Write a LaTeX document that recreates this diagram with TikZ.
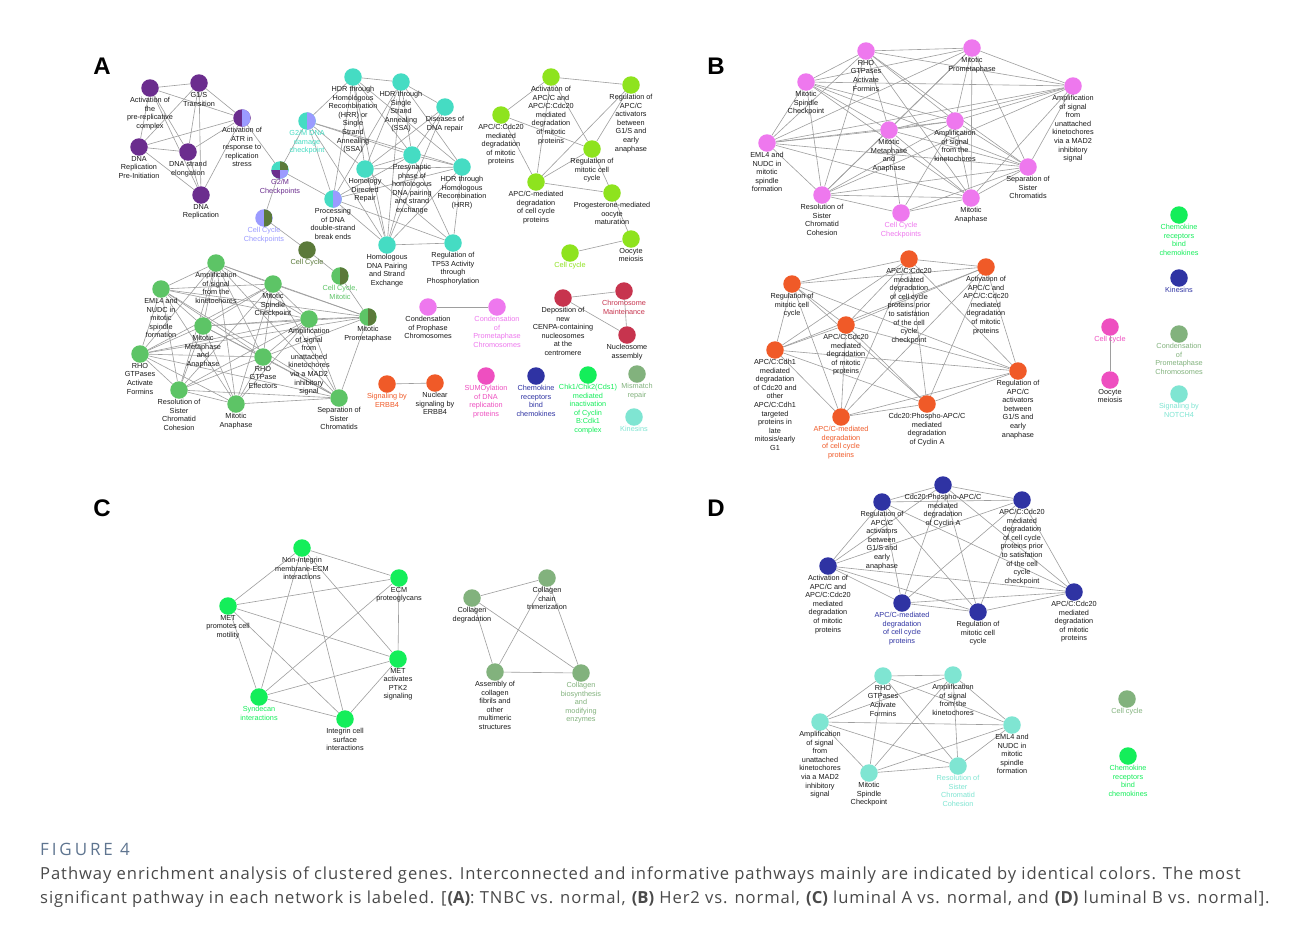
\documentclass[tikz,border=0pt]{standalone}
\usepackage{fontspec}
\setmainfont{Liberation Sans}
\newfontfamily\capfont[LetterSpace=5.5,BoldFeatures={LetterSpace=0}]{Open Sans}
\newfontfamily\figfont[LetterSpace=17]{Open Sans}
\pgfdeclarelayer{bgw}
\pgfdeclarelayer{bg}
\pgfsetlayers{bgw,bg,main}
\definecolor{cP}{HTML}{6B2D8E}
\definecolor{cL}{HTML}{9B9BFF}
\definecolor{cT}{HTML}{45DCC3}
\definecolor{cO}{HTML}{5B7A3A}
\definecolor{cG}{HTML}{5DC466}
\definecolor{cLi}{HTML}{8EE31E}
\definecolor{cV}{HTML}{EE78EE}
\definecolor{cR}{HTML}{C7344E}
\definecolor{cOr}{HTML}{F05A28}
\definecolor{cM}{HTML}{EE4FC0}
\definecolor{cN}{HTML}{2F33A3}
\definecolor{cBG}{HTML}{14EE5A}
\definecolor{cS}{HTML}{82B27D}
\definecolor{cLT}{HTML}{7FE5D2}
\definecolor{edgec}{HTML}{9E9E9E}
\definecolor{txt}{HTML}{1A1A1A}
\definecolor{capblue}{HTML}{5F7590}
\definecolor{captxt}{HTML}{4A4A4A}
\tikzset{
  nd/.style={circle,inner sep=0pt,minimum size=17.5pt,label distance=1.8pt},
  lb/.style={font=\fontsize{7.3}{8.6}\selectfont,align=center,inner sep=0pt},
  edge/.style={draw=edgec,line width=0.6pt},
  half/.style 2 args={fill=#1,path picture={\fill[#2] (path picture bounding box.south) rectangle (path picture bounding box.north east);}},
  quad/.style n args={4}{fill=#1,path picture={
    \fill[#2] (path picture bounding box.north) rectangle (path picture bounding box.east);
    \fill[#3] (path picture bounding box.west) rectangle (path picture bounding box.south);
    \fill[#4] (path picture bounding box.south) rectangle (path picture bounding box.east);}},
  panel/.style={font=\fontsize{24}{24}\selectfont\bfseries,text=black}
}
\newcommand\PN[5]{\node[nd,#3,label={[lb,text=#5]below:{#4}}] (#1) at (#2) {};}
\newcommand\clique[1]{\foreach \u [count=\ci] in {#1}{\foreach \v [count=\cj] in {#1}{\ifnum\ci<\cj\relax\draw[edge] (\u) -- (\v);\fi}}}
\begin{document}
\begin{tikzpicture}[x=1pt,y=-1pt]
\useasboundingbox (0,0) rectangle (1293,932);
\begin{pgfonlayer}{bgw}
\fill[white] (0,0) rectangle (1293,932);
\end{pgfonlayer}
% panel letters
\node[panel] (LA) at (102,66) {A};
\node[panel] (LB) at (716,66) {B};
\node[panel] (LC) at (102,508) {C};
\node[panel] (LD) at (716,508) {D};
% ===== Panel A =====
\PN{p1}{150,88}{fill=cP}{Activation of\\the\\pre-replicative\\complex}{txt}
\PN{p2}{199,83}{fill=cP}{G1/S\\Transition}{txt}
\PN{p3}{242,118}{half={cP}{cL}}{Activation of\\ATR in\\response to\\replication\\stress}{txt}
\PN{p4}{139,147}{fill=cP}{DNA\\Replication\\Pre-Initiation}{txt}
\PN{p5}{188,152}{fill=cP}{DNA strand\\elongation}{txt}
\PN{p6}{201,195}{fill=cP}{DNA\\Replication}{txt}
\PN{g0}{280,170}{quad={cT}{cO}{cP}{cL}}{G2/M\\Checkpoints}{cP}
\PN{g3}{264,218}{half={cL}{cO}}{Cell Cycle\\Checkpoints}{cL}
\PN{g1}{307,121}{half={cT}{cL}}{G2/M DNA\\damage\\checkpoint}{cT}
\PN{g2}{333,199}{half={cT}{cL}}{Processing\\of DNA\\double-strand\\break ends}{txt}
\PN{g4}{307,250}{fill=cO}{Cell Cycle}{cO}
\PN{g5}{340,276}{half={cG}{cO}}{Cell Cycle,\\Mitotic}{cG}
\PN{t1}{353,77}{fill=cT}{HDR through\\Homologous\\Recombination\\(HRR) or\\Single\\Strand\\Annealing\\(SSA)}{txt}
\PN{t2}{401,82}{fill=cT}{HDR through\\Single\\Strand\\Annealing\\(SSA)}{txt}
\PN{t3}{445,107}{fill=cT}{Diseases of\\DNA repair}{txt}
\PN{t4}{412,155}{fill=cT}{Presynaptic\\phase of\\homologous\\DNA pairing\\and strand\\exchange}{txt}
\PN{t5}{365,169}{fill=cT}{Homology\\Directed\\Repair}{txt}
\PN{t6}{462,167}{fill=cT}{HDR through\\Homologous\\Recombination\\(HRR)}{txt}
\PN{t7}{387,245}{fill=cT}{Homologous\\DNA Pairing\\and Strand\\Exchange}{txt}
\PN{t8}{453,243}{fill=cT}{Regulation of\\TP53 Activity\\through\\Phosphorylation}{txt}
\PN{l1}{501,115}{fill=cLi}{APC/C:Cdc20\\mediated\\degradation\\of mitotic\\proteins}{txt}
\PN{l2}{551,77}{fill=cLi}{Activation of\\APC/C and\\APC/C:Cdc20\\mediated\\degradation\\of mitotic\\proteins}{txt}
\PN{l3}{631,85}{fill=cLi}{Regulation of\\APC/C\\activators\\between\\G1/S and\\early\\anaphase}{txt}
\PN{l4}{592,149}{fill=cLi}{Regulation of\\mitotic cell\\cycle}{txt}
\PN{l5}{536,182}{fill=cLi}{APC/C-mediated\\degradation\\of cell cycle\\proteins}{txt}
\PN{l6}{612,193}{fill=cLi}{Progesterone-mediated\\oocyte\\maturation}{txt}
\PN{l7}{631,239}{fill=cLi}{Oocyte\\meiosis}{txt}
\PN{l8}{570,253}{fill=cLi}{Cell cycle}{cLi}
\PN{e1}{216,263}{fill=cG}{Amplification\\of signal\\from the\\kinetochores}{txt}
\PN{e2}{161,289}{fill=cG}{EML4 and\\NUDC in\\mitotic\\spindle\\formation}{txt}
\PN{e3}{273,284}{fill=cG}{Mitotic\\Spindle\\Checkpoint}{txt}
\PN{e4}{203,326}{fill=cG}{Mitotic\\Metaphase\\and\\Anaphase}{txt}
\PN{e5}{309,319}{fill=cG}{Amplification\\of signal\\from\\unattached\\kinetochores\\via a MAD2\\inhibitory\\signal}{txt}
\PN{e6}{368,317}{half={cG}{cO}}{Mitotic\\Prometaphase}{txt}
\PN{e7}{140,354}{fill=cG}{RHO\\GTPases\\Activate\\Formins}{txt}
\PN{e8}{263,357}{fill=cG}{RHO\\GTPase\\Effectors}{txt}
\PN{e9}{179,390}{fill=cG}{Resolution of\\Sister\\Chromatid\\Cohesion}{txt}
\PN{e10}{236,404}{fill=cG}{Mitotic\\Anaphase}{txt}
\PN{e11}{339,398}{fill=cG}{Separation of\\Sister\\Chromatids}{txt}
\PN{c1}{428,307}{fill=cV}{Condensation\\of Prophase\\Chromosomes}{txt}
\PN{c2}{497,307}{fill=cV}{Condensation\\of\\Prometaphase\\Chromosomes}{cV}
\PN{r1}{563,298}{fill=cR}{Deposition of\\new\\CENPA-containing\\nucleosomes\\at the\\centromere}{txt}
\PN{r2}{624,291}{fill=cR}{Chromosome\\Maintenance}{cR}
\PN{r3}{627,335}{fill=cR}{Nucleosome\\assembly}{txt}
\PN{o1}{387,384}{fill=cOr}{Signaling by\\ERBB4}{cOr}
\PN{o2}{435,383}{fill=cOr}{Nuclear\\signaling by\\ERBB4}{txt}
\PN{s1}{486,376}{fill=cM}{SUMOylation\\of DNA\\replication\\proteins}{cM}
\PN{s2}{536,376}{fill=cN}{Chemokine\\receptors\\bind\\chemokines}{cN}
\PN{s3}{588,375}{fill=cBG}{Chk1/Chk2(Cds1)\\mediated\\inactivation\\of Cyclin\\B:Cdk1\\complex}{cBG}
\PN{s4}{637,374}{fill=cS}{Mismatch\\repair}{cS}
\PN{s5}{634,417}{fill=cLT}{Kinesins}{cLT}
% ===== Panel B =====
\PN{b1}{866,51}{fill=cV}{RHO\\GTPases\\Activate\\Formins}{txt}
\PN{b2}{972,48}{fill=cV}{Mitotic\\Prometaphase}{txt}
\PN{b3}{806,82}{fill=cV}{Mitotic\\Spindle\\Checkpoint}{txt}
\PN{b4}{1073,86}{fill=cV}{Amplification\\of signal\\from\\unattached\\kinetochores\\via a MAD2\\inhibitory\\signal}{txt}
\PN{b5}{955,121}{fill=cV}{Amplification\\of signal\\from the\\kinetochores}{txt}
\PN{b6}{889,130}{fill=cV}{Mitotic\\Metaphase\\and\\Anaphase}{txt}
\PN{b7}{767,143}{fill=cV}{EML4 and\\NUDC in\\mitotic\\spindle\\formation}{txt}
\PN{b8}{1028,167}{fill=cV}{Separation of\\Sister\\Chromatids}{txt}
\PN{b9}{822,195}{fill=cV}{Resolution of\\Sister\\Chromatid\\Cohesion}{txt}
\PN{b10}{971,198}{fill=cV}{Mitotic\\Anaphase}{txt}
\PN{b11}{901,213}{fill=cV}{Cell Cycle\\Checkpoints}{cV}
\PN{q1}{909,259}{fill=cOr}{APC/C:Cdc20\\mediated\\degradation\\of cell cycle\\proteins prior\\to satisfation\\of the cell\\cycle\\checkpoint}{txt}
\PN{q2}{986,267}{fill=cOr}{Activation of\\APC/C and\\APC/C:Cdc20\\mediated\\degradation\\of mitotic\\proteins}{txt}
\PN{q3}{792,284}{fill=cOr}{Regulation of\\mitotic cell\\cycle}{txt}
\PN{q4}{846,325}{fill=cOr}{APC/C:Cdc20\\mediated\\degradation\\of mitotic\\proteins}{txt}
\PN{q5}{775,350}{fill=cOr}{APC/C:Cdh1\\mediated\\degradation\\of Cdc20 and\\other\\APC/C:Cdh1\\targeted\\proteins in\\late\\mitosis/early\\G1}{txt}
\PN{q6}{1018,371}{fill=cOr}{Regulation of\\APC/C\\activators\\between\\G1/S and\\early\\anaphase}{txt}
\PN{q7}{841,417}{fill=cOr}{APC/C-mediated\\degradation\\of cell cycle\\proteins}{cOr}
\PN{q8}{927,404}{fill=cOr}{Cdc20:Phospho-APC/C\\mediated\\degradation\\of Cyclin A}{txt}
\PN{m1}{1110,327}{fill=cM}{Cell cycle}{cM}
\PN{m2}{1110,380}{fill=cM}{Oocyte\\meiosis}{txt}
\PN{u1}{1179,215}{fill=cBG}{Chemokine\\receptors\\bind\\chemokines}{cBG}
\PN{u2}{1179,278}{fill=cN}{Kinesins}{cN}
\PN{u3}{1179,334}{fill=cS}{Condensation\\of\\Prometaphase\\Chromosomes}{cS}
\PN{u4}{1179,394}{fill=cLT}{Signaling by\\NOTCH4}{cLT}
% ===== Panel C =====
\PN{k1}{302,548}{fill=cBG}{Non-integrin\\membrane-ECM\\interactions}{txt}
\PN{k2}{399,578}{fill=cBG}{ECM\\proteoglycans}{txt}
\PN{k3}{228,606}{fill=cBG}{MET\\promotes cell\\motility}{txt}
\PN{k4}{398,659}{fill=cBG}{MET\\activates\\PTK2\\signaling}{txt}
\PN{k5}{259,697}{fill=cBG}{Syndecan\\interactions}{cBG}
\PN{k6}{345,719}{fill=cBG}{Integrin cell\\surface\\interactions}{txt}
\PN{h1}{547,578}{fill=cS}{Collagen\\chain\\trimerization}{txt}
\PN{h2}{472,598}{fill=cS}{Collagen\\degradation}{txt}
\PN{h3}{495,672}{fill=cS}{Assembly of\\collagen\\fibrils and\\other\\multimeric\\structures}{txt}
\PN{h4}{581,673}{fill=cS}{Collagen\\biosynthesis\\and\\modifying\\enzymes}{cS}
% ===== Panel D =====
\PN{n1}{943,485}{fill=cN}{Cdc20:Phospho-APC/C\\mediated\\degradation\\of Cyclin A}{txt}
\PN{n2}{882,502}{fill=cN}{Regulation of\\APC/C\\activators\\between\\G1/S and\\early\\anaphase}{txt}
\PN{n3}{1022,500}{fill=cN}{APC/C:Cdc20\\mediated\\degradation\\of cell cycle\\proteins prior\\to satisfation\\of the cell\\cycle\\checkpoint}{txt}
\PN{n4}{828,566}{fill=cN}{Activation of\\APC/C and\\APC/C:Cdc20\\mediated\\degradation\\of mitotic\\proteins}{txt}
\PN{n5}{902,603}{fill=cN}{APC/C-mediated\\degradation\\of cell cycle\\proteins}{cN}
\PN{n6}{978,612}{fill=cN}{Regulation of\\mitotic cell\\cycle}{txt}
\PN{n7}{1074,592}{fill=cN}{APC/C:Cdc20\\mediated\\degradation\\of mitotic\\proteins}{txt}
\PN{d1}{883,676}{fill=cLT}{RHO\\GTPases\\Activate\\Formins}{txt}
\PN{d2}{953,675}{fill=cLT}{Amplification\\of signal\\from the\\kinetochores}{txt}
\PN{d3}{820,722}{fill=cLT}{Amplification\\of signal\\from\\unattached\\kinetochores\\via a MAD2\\inhibitory\\signal}{txt}
\PN{d4}{1012,725}{fill=cLT}{EML4 and\\NUDC in\\mitotic\\spindle\\formation}{txt}
\PN{d5}{869,773}{fill=cLT}{Mitotic\\Spindle\\Checkpoint}{txt}
\PN{d6}{958,766}{fill=cLT}{Resolution of\\Sister\\Chromatid\\Cohesion}{cLT}
\PN{w1}{1127,699}{fill=cS}{Cell cycle}{cS}
\PN{w2}{1128,756}{fill=cBG}{Chemokine\\receptors\\bind\\chemokines}{cBG}
% ===== edges =====
\begin{pgfonlayer}{bg}
\clique{p1,p2,p3,p4,p5,p6}
\foreach \a/\b in {p3/g0,g1/g0,g0/g3,g0/g2,g3/g4,g4/g5,g5/e6,
  t1/t2,t2/t3,t1/g1,t1/t5,t1/g2,t1/t4,t1/t6,t1/t7,t2/t5,t2/g2,t2/t7,t2/t4,t2/t6,
  t3/t5,t3/t7,t3/t4,t4/t5,t4/t6,t4/t7,t4/t8,t4/g1,t5/t6,t5/t7,t5/t8,t6/t7,t6/t8,
  t6/g2,g1/g2,g1/t5,g1/t7,g1/t6,g2/t7,g2/t8,g2/t4,t7/t8,
  l1/l2,l2/l3,l1/l4,l1/l5,l2/l4,l2/l5,l3/l4,l3/l5,l4/l5,l5/l6,l4/l6,l6/l7,l7/l8,
  e6/e1,e6/e2,e6/e3,e6/e4,e6/e5,e6/e7,e6/e8,e6/e11,
  c1/c2,r1/r2,r1/r3,r2/r3,o1/o2,
  b11/b6,b11/b9,b11/b10,b11/b8,b11/b5,m1/m2,
  k1/k2,k1/k3,k1/k4,k1/k5,k1/k6,k2/k3,k2/k4,k2/k5,k3/k4,k3/k5,k3/k6,k4/k5,k4/k6,k5/k6,
  h2/h1,h2/h3,h2/h4,h1/h3,h1/h4,h3/h4}
  {\draw[edge] (\a) -- (\b);}
\clique{e1,e2,e3,e4,e5,e7,e8,e9,e10,e11}
\clique{b1,b2,b3,b4,b5,b6,b7,b8,b9,b10}
\clique{q1,q2,q3,q4,q5,q6,q7,q8}
\clique{n1,n2,n3,n4,n5,n6,n7}
\clique{d1,d2,d3,d4,d5,d6}
\end{pgfonlayer}
% ===== caption =====
\node[anchor=base west,inner sep=0pt,text=capblue,font=\figfont\fontsize{17}{16}\selectfont] (figl) at (40,855) {FIGURE 4};
\node[anchor=base west,inner sep=0pt,text=captxt,font=\capfont\fontsize{16.6}{16}\selectfont] (cap1) at (40,879) {Pathway enrichment analysis of clustered genes. Interconnected and informative pathways mainly are indicated by identical colors. The most};
\node[anchor=base west,inner sep=0pt,text=captxt,font=\capfont\fontsize{16.6}{16}\selectfont] (cap2) at (40,903) {significant pathway in each network is labeled. [\textbf{(A)}: TNBC vs. normal, \textbf{(B)} Her2 vs. normal, \textbf{(C)} luminal A vs. normal, and \textbf{(D)} luminal B vs. normal].};
\end{tikzpicture}
\end{document}
